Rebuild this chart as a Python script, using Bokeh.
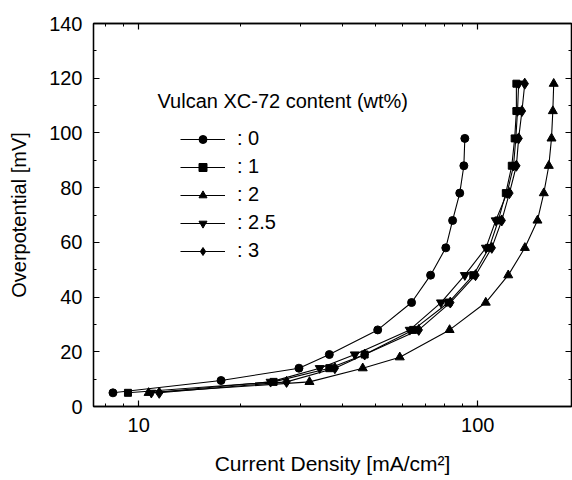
from bokeh.plotting import figure
from bokeh.models import (Range1d, FixedTicker, LogAxis, LinearAxis, Legend,
                          LegendItem, Label, NumeralTickFormatter,
                          CustomJSTickFormatter)
from bokeh.embed import file_html
from bokeh.resources import INLINE

FONT = "Liberation Sans"

# Overpotential [mV] vs current density [mA/cm2] for each Vulcan XC-72 loading
eta_0 = [5, 9.5, 14, 19, 28, 38, 48, 58, 68, 78, 88, 98]
j_0 = [8.4, 17.5, 29.7, 36.5, 50.7, 63.8, 72.6, 80.5, 84.3, 88.5, 91.0, 91.6]

eta_1 = [5, 9, 14, 19, 28, 38, 48, 58, 68, 78, 88, 98, 108, 118]
j_1 = [9.3, 25.0, 36.5, 46.4, 64.5, 82.0, 97.0, 108.0, 115.0, 121.0, 126.0, 128.5, 130.0, 130.0]

eta_2 = [5, 9, 14, 18, 28, 38, 48, 58, 68, 78, 88, 98, 108, 118]
j_2 = [10.7, 31.9, 45.8, 58.9, 82.6, 105.6, 123.0, 137.7, 150.0, 156.6, 162.0, 165.0, 166.5, 167.5]

eta_25 = [5, 9, 14, 19, 28, 38, 48, 58, 68, 78, 88, 98, 108, 118]
j_25 = [10.9, 24.5, 34.2, 43.4, 63.0, 77.9, 91.6, 105.7, 113.0, 122.0, 127.5, 129.5, 131.0, 132.0]

eta_3 = [5, 9, 14, 19, 28, 38, 48, 58, 68, 78, 88, 98, 108, 118]
j_3 = [11.5, 27.3, 37.9, 46.4, 67.0, 83.0, 98.5, 110.0, 117.7, 124.0, 130.0, 132.0, 135.0, 137.6]

series_labels = [": 0", ": 1", ": 2", ": 2.5", ": 3"]
legend_title = "Vulcan XC-72 content (wt%)"

x_major = [10, 100]
x_minor = [8, 9, 20, 30, 40, 50, 60, 70, 80, 90]
y_major = [0, 20, 40, 60, 80, 100, 120, 140]
y_minor = [10, 30, 50, 70, 90, 110, 130]

p = figure(width=572, height=480, x_axis_type="log",
           x_range=Range1d(7.36, 189), y_range=Range1d(0, 140),
           output_backend="svg", toolbar_location=None,
           min_border_left=93, min_border_right=1,
           min_border_top=23, min_border_bottom=74)
p.grid.visible = False
p.outline_line_color = "black"
p.outline_line_width = 1.3
p.background_fill_color = "white"
p.border_fill_color = "white"


def style_axis(ax):
    ax.axis_line_color = "black"
    ax.axis_line_width = 1.3
    ax.major_tick_in = 6
    ax.major_tick_out = 0
    ax.minor_tick_in = 3
    ax.minor_tick_out = 0
    ax.major_tick_line_color = "black"
    ax.minor_tick_line_color = "black"
    ax.major_tick_line_width = 1.2
    ax.minor_tick_line_width = 1.0
    ax.major_label_text_font = FONT
    ax.major_label_text_color = "black"
    ax.major_label_text_font_size = "20px"
    ax.axis_label_text_font = FONT
    ax.axis_label_text_color = "black"
    ax.axis_label_text_font_style = "normal"


xa = p.xaxis[0]
xa.ticker = FixedTicker(ticks=x_major, minor_ticks=x_minor)
xa.formatter = NumeralTickFormatter(format="0")
style_axis(xa)
xa.major_label_standoff = 11
xa.axis_label = "Current Density [mA/cm²]"
xa.axis_label_text_font_size = "21px"
xa.axis_label_standoff = 17

ya = p.yaxis[0]
ya.ticker = FixedTicker(ticks=y_major, minor_ticks=y_minor)
style_axis(ya)
ya.major_label_standoff = 11
ya.axis_label = "Overpotential [mV]"
ya.axis_label_text_font_size = "20px"
ya.axis_label_standoff = 16

# tick-only mirror axes on the top and right edges of the frame
blank = CustomJSTickFormatter(code="return ''")
top_axis = LogAxis(ticker=FixedTicker(ticks=x_major, minor_ticks=x_minor),
                   formatter=blank, major_label_standoff=0)
style_axis(top_axis)
p.add_layout(top_axis, "above")

right_axis = LinearAxis(ticker=FixedTicker(ticks=y_major, minor_ticks=y_minor),
                        formatter=blank, major_label_standoff=0)
style_axis(right_axis)
p.add_layout(right_axis, "right")

series = [
    (j_0, eta_0, "circle", 8),
    (j_1, eta_1, "square", 7),
    (j_2, eta_2, "triangle", 9),
    (j_25, eta_25, "inverted_triangle", 9),
    (j_3, eta_3, "diamond", 11),
]

items = []
for (xs, ys, marker, size), lab in zip(series, series_labels):
    ln = p.line(xs, ys, line_color="black", line_width=1.1)
    sc = p.scatter(xs, ys, marker=marker, size=size,
                   fill_color="black", line_color="black")
    items.append(LegendItem(label=lab, renderers=[ln, sc]))

legend = Legend(items=items, location=(87, 144),
                glyph_width=45, glyph_height=20, label_height=20,
                spacing=5, padding=0, margin=0, label_standoff=12,
                border_line_color=None, background_fill_alpha=0,
                label_text_font=FONT, label_text_font_size="20px",
                label_text_color="black")
p.add_layout(legend)

p.add_layout(Label(x=64, y=306, x_units="screen", y_units="screen",
                   text=legend_title, text_font=FONT, text_font_size="20px",
                   text_baseline="middle", text_color="black"))

open("out.html", "w").write(file_html(p, INLINE))
